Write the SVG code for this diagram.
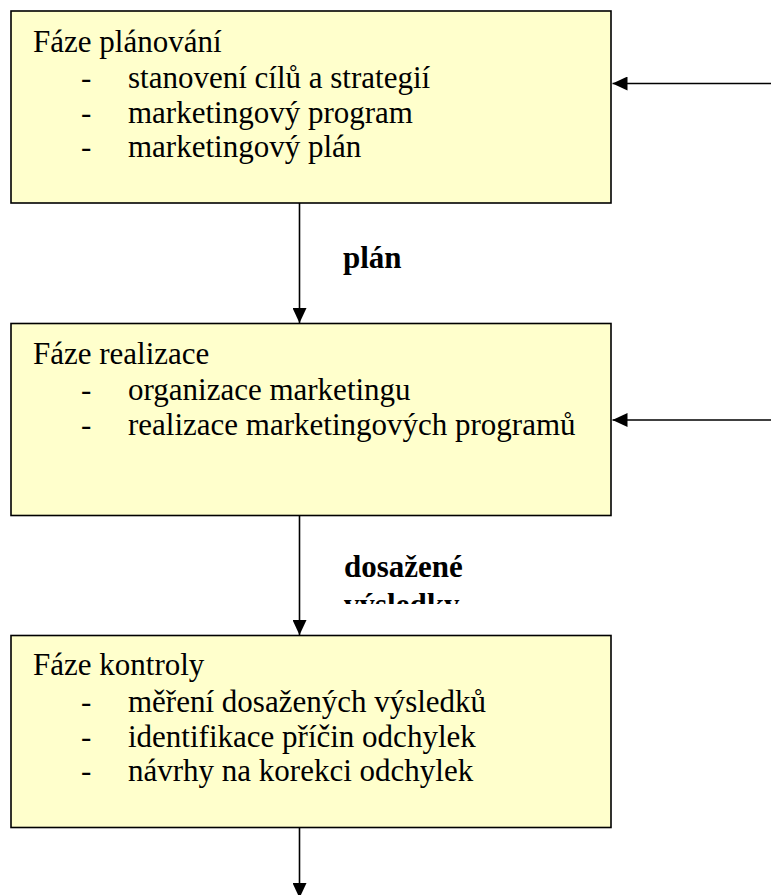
<svg xmlns="http://www.w3.org/2000/svg" width="771" height="895" viewBox="0 0 771 895">
  <style>
    .box { fill: #FFFFCC; stroke: #000; stroke-width: 1.6; }
    .txt { font-family: "Liberation Serif", "Times New Roman", serif; font-size: 31px; fill: #000; }
    .lbl { font-family: "Liberation Serif", "Times New Roman", serif; font-size: 31px; font-weight: bold; fill: #000; }
    .wire { stroke: #000; stroke-width: 1.6; fill: none; }
  </style>
  <defs>
    <marker id="arrow" markerWidth="15" markerHeight="14" refX="15" refY="7" orient="auto" markerUnits="userSpaceOnUse">
      <path d="M0,0 L15,7 L0,14 Z" fill="#000"/>
    </marker>
    <clipPath id="labelClip">
      <rect x="330" y="540" width="160" height="64"/>
    </clipPath>
  </defs>
  <rect width="771" height="895" fill="#fff"/>

  <!-- planning phase -->
  <g id="planovani">
    <rect class="box" x="11" y="11" width="600" height="192"/>
    <text class="txt" x="33" y="52">Fáze plánování</text>
    <text class="txt" x="81" y="88">-</text>
    <text class="txt" x="128" y="88">stanovení cílů a strategií</text>
    <text class="txt" x="81" y="122.5">-</text>
    <text class="txt" x="128" y="122.5">marketingový program</text>
    <text class="txt" x="81" y="157">-</text>
    <text class="txt" x="128" y="157">marketingový plán</text>
  </g>

  <!-- implementation phase -->
  <g id="realizace">
    <rect class="box" x="11" y="323.5" width="600" height="192"/>
    <text class="txt" x="33" y="364">Fáze realizace</text>
    <text class="txt" x="81" y="400">-</text>
    <text class="txt" x="128" y="400">organizace marketingu</text>
    <text class="txt" x="81" y="434.5">-</text>
    <text class="txt" x="128" y="434.5">realizace marketingových programů</text>
  </g>

  <!-- control phase -->
  <g id="kontrola">
    <rect class="box" x="11" y="635.5" width="600" height="192"/>
    <text class="txt" x="33" y="675">Fáze kontroly</text>
    <text class="txt" x="81" y="711.5">-</text>
    <text class="txt" x="128" y="711.5">měření dosažených výsledků</text>
    <text class="txt" x="81" y="746.5">-</text>
    <text class="txt" x="128" y="746.5">identifikace příčin odchylek</text>
    <text class="txt" x="81" y="780.5">-</text>
    <text class="txt" x="128" y="780.5">návrhy na korekci odchylek</text>
  </g>

  <!-- connectors -->
  <g id="connectors">
    <line class="wire" x1="299.5" y1="203" x2="299.5" y2="323" marker-end="url(#arrow)"/>
    <line class="wire" x1="299.5" y1="515.5" x2="299.5" y2="635" marker-end="url(#arrow)"/>
    <line class="wire" x1="299.5" y1="827.5" x2="299.5" y2="898" marker-end="url(#arrow)"/>
    <line class="wire" x1="771" y1="83.5" x2="612.5" y2="83.5" marker-end="url(#arrow)"/>
    <line class="wire" x1="771" y1="420" x2="612.5" y2="420" marker-end="url(#arrow)"/>
  </g>

  <!-- connector labels -->
  <g id="labels">
    <text class="lbl" x="343" y="268">plán</text>
    <g clip-path="url(#labelClip)">
      <text class="lbl" x="344" y="577">dosažené</text>
      <text class="lbl" x="344" y="614.5">výsledky</text>
    </g>
  </g>
</svg>
